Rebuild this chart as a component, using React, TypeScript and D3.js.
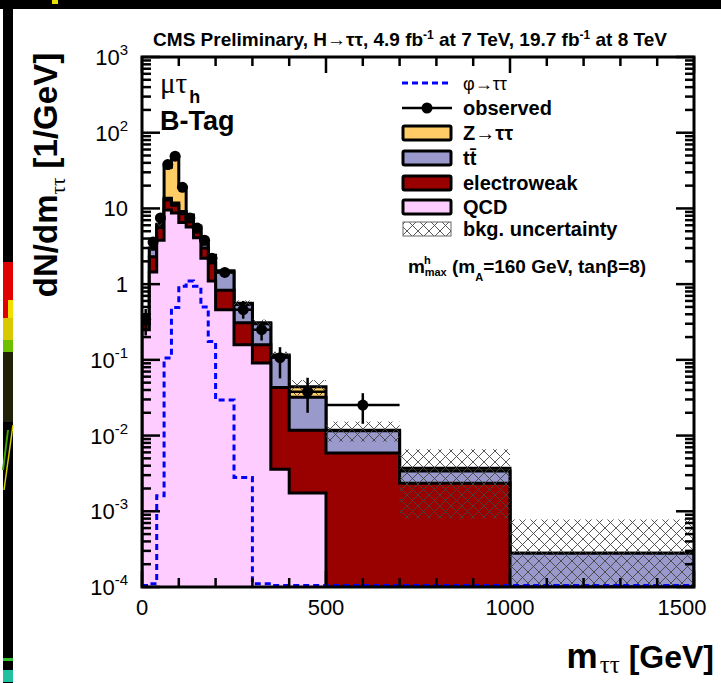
import React from 'react';
import * as d3 from 'd3';

// ---------- data (densities in 1/GeV) ----------
const binEdges = [0, 20, 40, 60, 80, 100, 120, 140, 160, 180, 200, 250, 300, 350, 400, 500, 700, 1000, 1500];
const qcd = [0.25, 1.45, 3.8, 9.5, 8.7, 6.5, 5.7, 4.1, 2.2, 1.1, 0.46, 0.158, 0.091, 0.0036, 0.00174, 0, 0, 0];
const electroweak = [0.05, 0.85, 1.8, 3.4, 2.3, 2.0, 1.4, 0.8, 0.8, 0.8, 0.37, 0.152, 0.067, 0.0394, 0.01006, 0.0059, 0.00234, 0.00002];
const ttbar = [0.03, 0.6, 0.3, 0.7, 0.8, 0.6, 0.5, 0.5, 0.4, 0.3, 0.62, 0.23, 0.142, 0.069, 0.0202, 0.0057, 0.00106, 0.00026];
const ztautau = [0.02, 0.1, 0.3, 21.4, 36.2, 10.0, 0.6, 0.4, 0.3, 0.2, 0.05, 0.02, 0.01, 0.004, 0.012, 0.0002, 0.0003, 0];
const bkgErr = [0.03, 0.2, 0.4, 2.5, 3.0, 1.2, 0.5, 0.4, 0.25, 0.15, 0.1, 0.05, 0.03, 0.012, 0.01, 0.0035, 0.0029, 0.0005];
const signal = [0.00008, 0.00011, 0.0016, 0.106, 0.49, 0.94, 1.1, 0.94, 0.5, 0.175, 0.0295, 0.0028, 0.00011, 0.000105, 0.00009, 0.00005, 0.00002, 0.00001];
const observed = [0.34, 3.6, 7.5, 38, 49, 19, 7.5, 5.5, 3.8, 2.2, 1.43, 0.46, 0.25, 0.107, 0.038, 0.0253, null, null];
const obsErrHi = [0.13, 0.42, 0.61, 1.4, 1.6, 0.98, 0.61, 0.52, 0.44, 0.33, 0.17, 0.14, 0.07, 0.04, 0.02, 0.011, 0, 0];
const obsErrLo = [0.13, 0.42, 0.61, 1.4, 1.6, 0.98, 0.61, 0.52, 0.44, 0.33, 0.17, 0.11, 0.07, 0.05, 0.018, 0.011, 0, 0];

const xTicksMajor = [0, 500, 1000, 1500];
const xTickLabels = ['0', '500', '1000', '1500'];
const yDecades = [-4, -3, -2, -1, 0, 1, 2, 3];

const legendItems = [
  { key: 'sig', label: 'φ→ττ' },
  { key: 'obs', label: 'observed' },
  { key: 'z', label: 'Z→ττ', color: '#FFCC66' },
  { key: 'tt', label: 'tt̄', color: '#9999CC' },
  { key: 'ew', label: 'electroweak', color: '#990000' },
  { key: 'qcd', label: 'QCD', color: '#FFCCFF' },
  { key: 'unc', label: 'bkg. uncertainty' },
];

const SANS = "'Liberation Sans', Arial, Helvetica, sans-serif";
const SERIF = "'Liberation Serif', 'DejaVu Serif', serif";

const W = 721, H = 683;
const L = 142, R = 694, T = 57, B = 587;

export default function App() {
  const x = d3.scaleLinear().domain([0, 1500]).range([L, R]);
  const y = d3.scaleLog().domain([1e-4, 1e3]).range([B, T]).clamp(true);
  const yv = (v: number) => y(Math.max(v, 1e-7));

  const cumQ = qcd;
  const cumEW = qcd.map((v, i) => v + electroweak[i]);
  const cumTT = cumEW.map((v, i) => v + ttbar[i]);
  const cumZ = cumTT.map((v, i) => v + ztautau[i]);

  const stepPath = (vals: number[], bottom = B + 3) => {
    let d = `M${x(binEdges[0])},${bottom}`;
    vals.forEach((v, i) => {
      const yy = yv(v);
      d += `L${x(binEdges[i])},${yy}L${x(binEdges[i + 1])},${yy}`;
    });
    d += `L${x(binEdges[binEdges.length - 1])},${bottom}Z`;
    return d;
  };
  const stepLine = (vals: number[]) => {
    let d = '';
    vals.forEach((v, i) => {
      const yy = Math.min(yv(Math.max(v, 1.05e-4)), B - 1);
      d += `${i === 0 ? 'M' : 'L'}${x(binEdges[i])},${yy}L${x(binEdges[i + 1])},${yy}`;
    });
    return d;
  };

  const xMinor = d3.range(0, 1501, 100);
  const yMinor: number[] = [];
  for (let e = -4; e < 3; e++) for (let m = 2; m <= 9; m++) yMinor.push(m * Math.pow(10, e));

  const tickStroke = 2.5;

  return (
    <svg width={W} height={H} style={{ display: 'block', position: 'absolute', left: 0, top: 0 }} fontFamily={SANS}>
      <defs>
        <pattern id="hatch" width={11} height={11} patternUnits="userSpaceOnUse">
          <path d="M0,0L11,11M0,11L11,0M-1,1L1,-1M10,12L12,10" stroke="#444" strokeWidth={0.9} fill="none" />
        </pattern>
        <clipPath id="plotclip">
          <rect x={L} y={T} width={R - L} height={B - T} />
        </clipPath>
      </defs>
      <rect x={0} y={0} width={W} height={H} fill="#fff" />
      {/* screenshot border artifacts */}
      <rect x={0} y={0} width={W} height={9} fill="#000" />
      <rect x={3} y={0} width={10} height={H} fill="#000" />
      <rect x={52} y={0} width={6} height={4} fill="#e8e000" />
      <rect x={3} y={262} width={10} height={58} fill="#e00000" />
      <rect x={8} y={300} width={5} height={38} fill="#f0e000" />
      <rect x={3} y={318} width={10} height={22} fill="#d8c800" />
      <rect x={3} y={340} width={10} height={12} fill="#6cc000" />
      <rect x={3} y={352} width={10} height={70} fill="#202008" />
      <line x1={4} y1={490} x2={13} y2={425} stroke="#d0d000" strokeWidth={1.5} />
      <line x1={3} y1={470} x2={8} y2={430} stroke="#40a000" strokeWidth={2} />
      <rect x={3} y={658} width={10} height={3} fill="#30c030" />
      <rect x={3} y={670} width={10} height={12} fill="#20c0a0" />

      {/* stack */}
      <g clipPath="url(#plotclip)">
        <path d={stepPath(cumZ)} fill="#FFCC66" stroke="#000" strokeWidth={3} />
        <path d={stepPath(cumTT)} fill="#9999CC" stroke="#000" strokeWidth={3} />
        <path d={stepPath(cumEW)} fill="#990000" stroke="#000" strokeWidth={3} />
        <path d={stepPath(cumQ)} fill="#FFCCFF" stroke="#000" strokeWidth={3} />
        {cumZ.map((v, i) => {
          const y1 = yv(v + bkgErr[i]);
          const y2 = yv(Math.max(v - bkgErr[i], 1e-7));
          return (
            <rect key={'u' + i} x={x(binEdges[i])} y={y1} width={x(binEdges[i + 1]) - x(binEdges[i])}
              height={Math.max(0, y2 - y1)} fill="url(#hatch)" />
          );
        })}
        <path d={stepLine(signal)} fill="none" stroke="#0000FF" strokeWidth={3} strokeDasharray="6 4" />
        {observed.map((v, i) => {
          if (v == null) return null;
          const cx = x((binEdges[i] + binEdges[i + 1]) / 2);
          const cy = yv(v);
          return (
            <g key={'o' + i}>
              <line x1={x(binEdges[i])} x2={x(binEdges[i + 1])} y1={cy} y2={cy} stroke="#000" strokeWidth={2.5} />
              <line x1={cx} x2={cx} y1={yv(v + obsErrHi[i])} y2={yv(Math.max(v - obsErrLo[i], 1e-7))} stroke="#000" strokeWidth={2.5} />
              <circle cx={cx} cy={cy} r={5.5} fill="#000" />
            </g>
          );
        })}
      </g>

      {/* ticks */}
      <g stroke="#000" strokeWidth={tickStroke}>
        {xMinor.map((t) => {
          const len = xTicksMajor.includes(t) ? 16 : 9;
          return (
            <g key={'xt' + t}>
              <line x1={x(t)} x2={x(t)} y1={B} y2={B - len} />
              <line x1={x(t)} x2={x(t)} y1={T} y2={T + len} />
            </g>
          );
        })}
        {yDecades.map((e) => (
          <g key={'yd' + e}>
            <line x1={L} x2={L + 18} y1={y(Math.pow(10, e))} y2={y(Math.pow(10, e))} />
            <line x1={R} x2={R - 18} y1={y(Math.pow(10, e))} y2={y(Math.pow(10, e))} />
          </g>
        ))}
        {yMinor.map((v, i) => (
          <g key={'ym' + i}>
            <line x1={L} x2={L + 9} y1={y(v)} y2={y(v)} />
            <line x1={R} x2={R - 9} y1={y(v)} y2={y(v)} />
          </g>
        ))}
      </g>
      <rect x={L} y={T} width={R - L} height={B - T} fill="none" stroke="#000" strokeWidth={3} />

      {/* x tick labels */}
      {xTicksMajor.map((t, i) => (
        <text key={'xl' + t} x={i === xTicksMajor.length - 1 ? x(t) - 12 : x(t)} y={615} fontSize={22} textAnchor="middle">{xTickLabels[i]}</text>
      ))}
      {/* y tick labels */}
      {yDecades.map((e) => {
        const yy = y(Math.pow(10, e)) + 8;
        if (e === 0) return <text key={'yl' + e} x={128} y={yy} fontSize={22} textAnchor="end">1</text>;
        if (e === 1) return <text key={'yl' + e} x={128} y={yy} fontSize={22} textAnchor="end">10</text>;
        return (
          <text key={'yl' + e} x={128} y={yy} fontSize={22} textAnchor="end">
            10<tspan fontSize={15} dy={-10}>{String(e)}</tspan>
          </text>
        );
      })}

      {/* axis titles */}
      <text transform="translate(57,175) rotate(-90)" fontSize={33} fontWeight="bold" textAnchor="middle">
        dN/dm<tspan fontSize={21} dy={8} fontFamily={SERIF} fontWeight="normal">ττ</tspan><tspan dy={-8}> [1/GeV]</tspan>
      </text>
      <text x={714} y={668} fontSize={32} fontWeight="bold" textAnchor="end">
        <tspan fontSize={35}>m</tspan><tspan fontSize={25} dy={5} dx={2} fontFamily={SERIF} fontWeight="normal">ττ</tspan><tspan dy={-5}> [GeV]</tspan>
      </text>

      {/* title */}
      <text x={410} y={46} fontSize={19} fontWeight="bold" textAnchor="middle">
        CMS Preliminary,  H→ττ, 4.9 fb<tspan fontSize={12} dy={-7}>-1</tspan><tspan dy={7}> at 7 TeV, 19.7 fb</tspan><tspan fontSize={12} dy={-7}>-1</tspan><tspan dy={7}> at 8 TeV</tspan>
      </text>

      {/* channel labels */}
      <text x={160} y={93} fontSize={29} fontFamily={SERIF}>
        μτ<tspan fontSize={18} fontWeight="bold" fontFamily={SANS} dy={10} dx={2}>h</tspan>
      </text>
      <text x={160} y={130} fontSize={27} fontWeight="bold">B-Tag</text>

      {/* legend */}
      {legendItems.map((it, i) => {
        const yc = [83, 108, 133, 158, 183, 207, 229][i];
        let sym: React.ReactNode = null;
        if (it.key === 'sig') sym = <line x1={402} x2={452} y1={yc} y2={yc} stroke="#0000FF" strokeWidth={3} strokeDasharray="6 4" />;
        else if (it.key === 'obs') sym = (
          <g>
            <line x1={402} x2={452} y1={yc} y2={yc} stroke="#000" strokeWidth={2.5} />
            <circle cx={427} cy={yc} r={5.5} fill="#000" />
          </g>
        );
        else if (it.key === 'unc') sym = <rect x={403} y={yc - 7} width={48} height={14} fill="url(#hatch)" stroke="#666" strokeWidth={1} />;
        else sym = <rect x={403} y={yc - 7} width={48} height={14} rx={1.5} fill={it.color} stroke="#000" strokeWidth={3} />;
        return (
          <g key={it.key}>
            {sym}
            <text x={463} y={yc + 7} fontSize={it.key === 'sig' ? 18 : 20} fontWeight={it.key === 'sig' ? 'normal' : 'bold'}>{it.label}</text>
          </g>
        );
      })}

      {/* model annotation */}
      <text x={408} y={273} fontSize={19} fontWeight="bold">
        m<tspan fontSize={11} dy={-9} dx={-1}>h</tspan><tspan fontSize={11} dy={12} dx={-6}>max</tspan><tspan dy={-3}> (m</tspan><tspan fontSize={11} dy={8}>A</tspan><tspan dy={-8}>=160 GeV, tanβ=8)</tspan>
      </text>
    </svg>
  );
}
